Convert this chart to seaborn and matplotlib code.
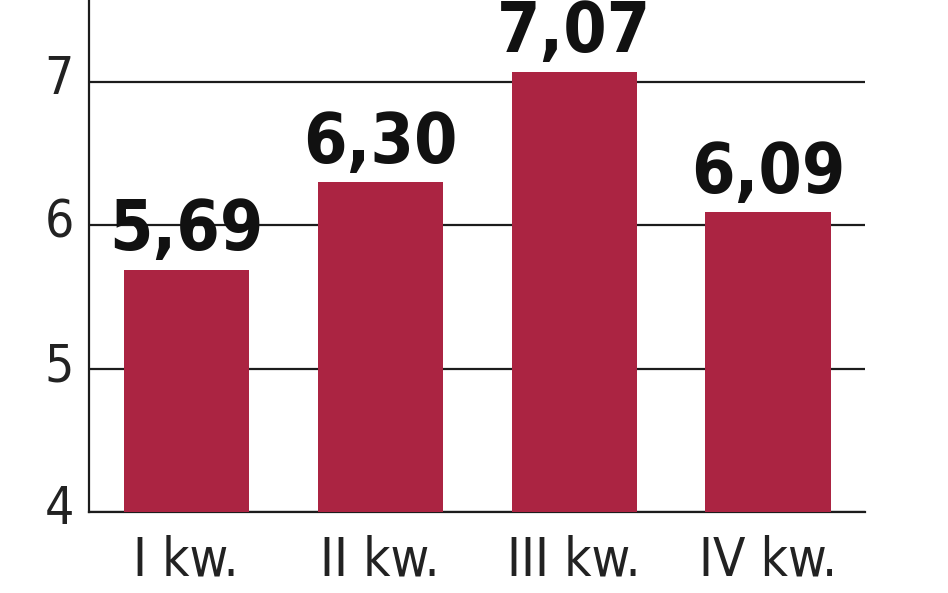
import matplotlib
matplotlib.use("Agg")
from matplotlib import font_manager
from matplotlib import pyplot as plt
from matplotlib.transforms import ScaledTranslation
import seaborn as sns

quarters = ["I kw.", "II kw.", "III kw.", "IV kw."]
values = [5.69, 6.30, 7.07, 6.09]
y_ticks = [4, 5, 6, 7]

bar_color = "#AB2442"
line_color = "#1c1c1c"

sns.set_theme(style="white")

fonts = font_manager.fontManager.ttflist
condensed = [f.name for f in fonts if "condensed" in str(f.stretch) or "Narrow" in f.name or "Condensed" in f.name]
base_font = condensed[0] if condensed else "Roboto"
plt.rcParams["font.family"] = [base_font, "DejaVu Sans"]

fig, ax = plt.subplots(figsize=(9.48, 5.93), dpi=100)
fig.subplots_adjust(left=0.094, right=0.9125, bottom=0.1366, top=1.0)

sns.barplot(x=quarters, y=values, color=bar_color, saturation=1, width=0.645,
            linewidth=0, ax=ax)
for patch in ax.patches:
    patch.set_zorder(3)

ax.set_xlim(-0.5, 3.5)
ax.set_ylim(4, 7.57)
ax.set_yticks(y_ticks)
ax.grid(axis="y", color=line_color, linewidth=1.6)
ax.set_axisbelow(True)

for side in ["top", "right"]:
    ax.spines[side].set_visible(False)
for side in ["left", "bottom"]:
    ax.spines[side].set_color(line_color)
    ax.spines[side].set_linewidth(1.6)

ax.tick_params(axis="y", length=0, pad=11, labelsize=37, labelcolor="#222222")
ax.tick_params(axis="x", length=0, pad=16, labelsize=38, labelcolor="#222222")
shift_up = ScaledTranslation(0, 7 / 100, fig.dpi_scale_trans)
for lbl in ax.get_yticklabels():
    lbl.set_transform(lbl.get_transform() + shift_up)
for lbl in ax.get_xticklabels() + ax.get_yticklabels():
    lbl.set_fontstretch("condensed")
ax.set_xlabel("")
ax.set_ylabel("")

labels = [f"{v:.2f}".replace(".", ",") for v in values]
ax.bar_label(ax.containers[0], labels=labels, padding=4, fontsize=50,
             fontweight="bold", fontstretch="condensed", color="#111111", clip_on=False)

fig.savefig("out.png", dpi=100)
